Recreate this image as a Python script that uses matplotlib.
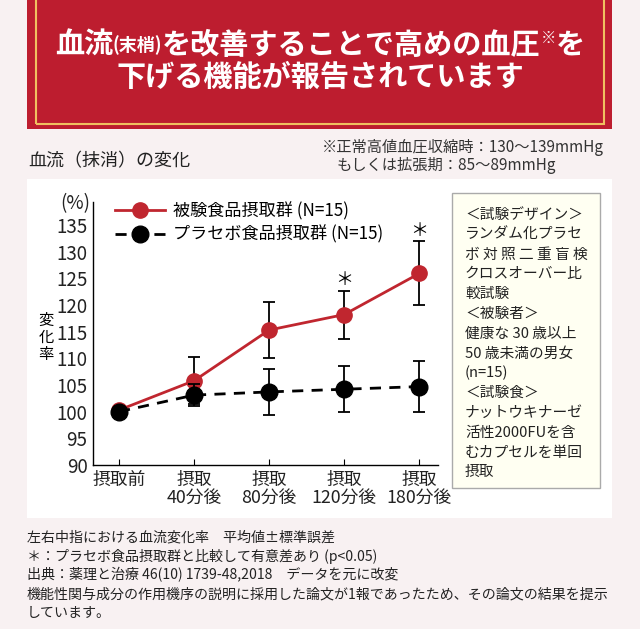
import matplotlib.pyplot as plt
from matplotlib.patches import Rectangle
from matplotlib.lines import Line2D

plt.rcParams['font.family'] = ['Noto Sans CJK JP', 'DejaVu Sans']

# data
timepoints = ['摂取前', '摂取\n40分後', '摂取\n80分後', '摂取\n120分後', '摂取\n180分後']
test_mean = [100.3, 105.8, 115.3, 118.2, 125.9]
test_err = [0.0, 4.4, 5.2, 4.5, 6.0]
placebo_mean = [100.0, 103.1, 103.7, 104.2, 104.7]
placebo_err = [0.0, 2.0, 4.3, 4.3, 4.8]
significant = [False, False, False, True, True]
test_label = '被験食品摂取群 (N=15)'
placebo_label = 'プラセボ食品摂取群 (N=15)'

W, H = 640, 629
fig = plt.figure(figsize=(6.4, 6.29), dpi=100)
fig.patch.set_facecolor('#f8f1f2')


def fx(x):
    return x / W


def fy(y):
    return 1 - y / H


def box(x0, y0, x1, y1, **kw):
    fig.patches.append(Rectangle((fx(x0), fy(y1)), fx(x1 - x0), (y1 - y0) / H,
                                 transform=fig.transFigure, **kw))


# banner
box(27, -2, 612, 129, facecolor='#bd1d2f', edgecolor='none', zorder=-2)
box(36, -5, 604, 124, facecolor='none', edgecolor='#f0c060', linewidth=1.5, zorder=-1)

# title line 1 built from pieces (small parenthesis part and superscript mark)
renderer = fig.canvas.get_renderer()
pieces = [('血流', 21, 0), ('(末梢)', 13, 0), ('を改善することで高めの血圧', 21, 0),
          ('※', 11, 7), ('を', 21, 0)]
texts = []
for s, size, dy in pieces:
    t = fig.text(0, fy(45 - dy), s, color='white', fontsize=size, fontweight='bold',
                 va='center', ha='left')
    texts.append(t)
widths = [t.get_window_extent(renderer).width for t in texts]
xpos = 320 - sum(widths) / 2
for t, w in zip(texts, widths):
    t.set_x(fx(xpos))
    xpos += w
fig.text(fx(320), fy(77), '下げる機能が報告されています', color='white',
         fontsize=21, fontweight='bold', ha='center', va='center')

# white panel
box(27, 179, 612, 518, facecolor='white', edgecolor='none', zorder=-2)

fig.text(fx(28), fy(161), '血流（抹消）の変化', fontsize=13, va='center', color='#222222')
fig.text(fx(322), fy(147), '※正常高値血圧収縮時：130〜139mmHg', fontsize=11, va='center', color='#333333')
fig.text(fx(337), fy(165), 'もしくは拡張期：85〜89mmHg', fontsize=11, va='center', color='#333333')

# chart
ax = fig.add_axes([fx(93), fy(465), fx(438 - 93), (465 - 202) / H])
ax.set_zorder(2)
ax.set_facecolor('none')
x = list(range(len(timepoints)))
ax.errorbar(x, test_mean, yerr=test_err, color='#c0262f', marker='o', markersize=11,
            linewidth=2, ecolor='black', elinewidth=1.3, capsize=4, capthick=1.3, zorder=3)
ax.errorbar(x, placebo_mean, yerr=placebo_err, color='black', marker='o', markersize=12,
            linewidth=2, linestyle='--', dashes=(4, 3), ecolor='black', elinewidth=1.3,
            capsize=4, capthick=1.3, zorder=4)
for xi, s, m, e in zip(x, significant, test_mean, test_err):
    if s:
        ax.text(xi, m + e + 2.0, '＊', ha='center', va='center', fontsize=13)

ax.set_xlim(-0.347, 4.25)
ax.set_ylim(90, 139.3)
ax.set_yticks(range(90, 136, 5))
ax.set_xticks(x)
ax.set_xticklabels(timepoints, fontsize=12.8, linespacing=1.0)
ax.tick_params(axis='y', length=0, labelsize=13.5, pad=4, labelcolor='#222222')
ax.tick_params(axis='x', direction='in', length=4, pad=4, labelcolor='#222222')
for sp in ['top', 'right']:
    ax.spines[sp].set_visible(False)
for sp in ['left', 'bottom']:
    ax.spines[sp].set_linewidth(1.0)
ax.text(-0.39, 139.0, '(%)', transform=ax.transData, ha='right', va='center', fontsize=13.5,
        color='#222222')
fig.text(fx(46), fy(337), '変\n化\n率', fontsize=11, ha='center', va='center', linespacing=1.0)

handles = [Line2D([], [], color='#c0262f', marker='o', markersize=11, linewidth=2),
           Line2D([], [], color='black', marker='o', markersize=12, linewidth=2,
                  linestyle='--', dashes=(4, 3))]
ax.legend(handles, [test_label, placebo_label], loc='upper left',
          bbox_to_anchor=(0.02, 1.06), frameon=False, fontsize=12.3,
          handlelength=2.9, handletextpad=0.5, labelspacing=0.3)

# study info box
box(452, 193, 600, 488, facecolor='#fffff2', edgecolor='#aaaaaa', linewidth=1, zorder=-1)
info = ['＜試験デザイン＞', 'ランダム化プラセ', 'ボ 対 照 二 重 盲 検', 'クロスオーバー比',
        '較試験', '＜被験者＞', '健康な 30 歳以上', '50 歳未満の男女', '(n=15)',
        '＜試験食＞', 'ナットウキナーゼ', '活性2000FUを含', 'むカプセルを単回', '摂取']
for i, line in enumerate(info):
    fig.text(fx(465), fy(215 + i * 19.8), line, fontsize=10.6, va='center', color='#222222')

# footnotes
notes = ['左右中指における血流変化率　平均値±標準誤差',
         '＊：プラセボ食品摂取群と比較して有意差あり (p<0.05)',
         '出典：薬理と治療 46(10) 1739-48,2018　データを元に改変',
         '機能性関与成分の作用機序の説明に採用した論文が1報であったため、その論文の結果を提示',
         'しています。']
for i, line in enumerate(notes):
    fig.text(fx(27), fy(537 + i * 19), line, fontsize=10.1, va='center', color='#222222')

fig.savefig('out.png', dpi=100, facecolor=fig.get_facecolor())
